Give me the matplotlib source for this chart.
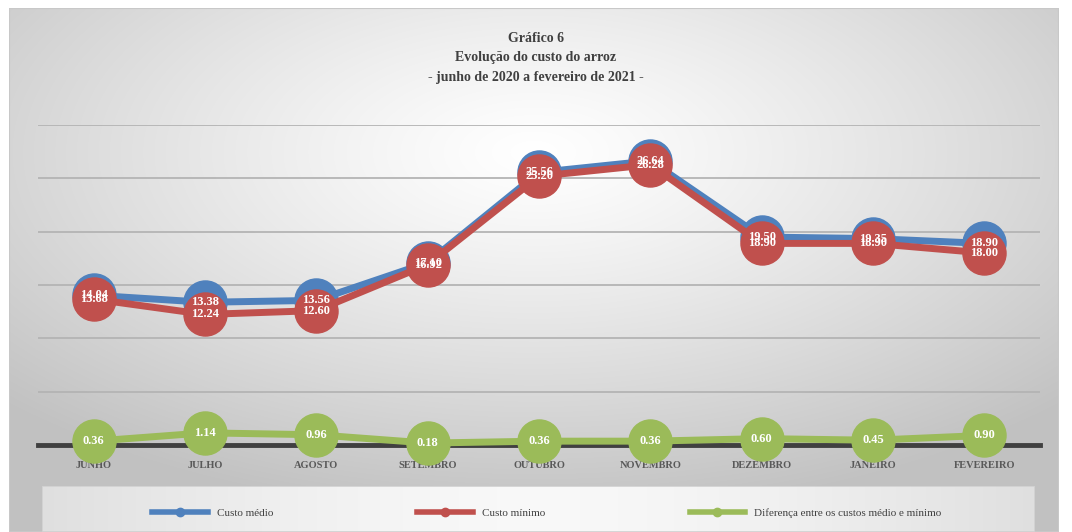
import numpy as np
import matplotlib
matplotlib.use("Agg")
import matplotlib.pyplot as plt
from matplotlib.patches import Rectangle
from matplotlib.lines import Line2D

categories = ["JUNHO", "JULHO", "AGOSTO", "SETEMBRO", "OUTUBRO", "NOVEMBRO",
              "DEZEMBRO", "JANEIRO", "FEVEREIRO"]
custo_medio = [14.04, 13.38, 13.56, 17.10, 25.56, 26.64, 19.50, 19.35, 18.90]
custo_minimo = [13.68, 12.24, 12.60, 16.92, 25.20, 26.28, 18.90, 18.90, 18.00]
diferenca = [0.36, 1.14, 0.96, 0.18, 0.36, 0.36, 0.60, 0.45, 0.90]
labels_medio = ["14.04", "13.38", "13.56", "17.10", "25.56", "26.64", "19.50", "19.35", "18.90"]
labels_minimo = ["13.68", "12.24", "12.60", "16.92", "25.20", "26.28", "18.90", "18.90", "18.00"]
labels_dif = ["0.36", "1.14", "0.96", "0.18", "0.36", "0.36", "0.60", "0.45", "0.90"]
series_names = ["Custo médio", "Custo mínimo", "Diferença entre os custos médio e mínimo"]

FONT = ["Liberation Serif", "DejaVu Serif"]
plt.rcParams["font.family"] = FONT

BLUE = "#4F81BD"
RED = "#C0504D"
GREEN = "#9BBB59"

W, H = 1072, 532
fig = plt.figure(figsize=(W / 100, H / 100), dpi=100)
fig.patch.set_facecolor("white")

# background panel with radial gradient
bg = fig.add_axes([9 / W, 0, (1059 - 9) / W, (H - 8) / H])
bg.set_axis_off()
yy, xx = np.mgrid[-1:1:300j, -1:1:600j]
r = np.sqrt((xx * 0.9) ** 2 + ((yy + 0.45) * 0.9) ** 2)
val = 1.0 - 0.24 * np.clip(r / 1.25, 0, 1) ** 1.2
img = np.dstack([val, val, val])
bg.imshow(img, aspect="auto", extent=[0, 1, 0, 1], interpolation="bilinear")
bg.set_xlim(0, 1)
bg.set_ylim(0, 1)
bg.add_patch(Rectangle((0, 0), 1, 1, fill=False, edgecolor="#c8c8c8", lw=1.5,
                       transform=bg.transAxes))

# legend box
lg = fig.add_axes([42 / W, 0, (1035 - 42) / W, (H - 486) / H])
lg.set_axis_off()
yy2, xx2 = np.mgrid[-1:1:50j, -1:1:600j]
v2 = 0.975 - 0.1 * np.clip(np.abs(xx2) ** 1.5, 0, 1)
lg.imshow(np.dstack([v2, v2, v2]), aspect="auto", extent=[0, 1, 0, 1], interpolation="bilinear")
lg.set_xlim(0, 1)
lg.set_ylim(0, 1)
lg.add_patch(Rectangle((0, 0), 1, 1, fill=False, edgecolor="#d0d0d0", lw=1.2,
                       transform=lg.transAxes))

# main axes
ax = fig.add_axes([38 / W, (H - 445) / H, (1040 - 38) / W, (445 - 125) / H])
ax.patch.set_alpha(0)
x = np.arange(len(categories))
ax.set_xlim(-0.5, len(categories) - 0.5)
ax.set_ylim(0, 30)
ax.set_yticks([5, 10, 15, 20, 25, 30])
ax.yaxis.grid(True, color="#b4b4b4", lw=1.3)
ax.set_axisbelow(True)
ax.tick_params(left=False, labelleft=False, bottom=False)
for s in ["left", "right", "top"]:
    ax.spines[s].set_visible(False)
ax.spines["bottom"].set_color("#404040")
ax.spines["bottom"].set_linewidth(3.5)
ax.spines["bottom"].set_zorder(1)

ms = 31
lw = 5
ax.plot(x, custo_medio, color=BLUE, lw=lw, marker="o", ms=ms, zorder=3)
ax.plot(x, custo_minimo, color=RED, lw=lw, marker="o", ms=ms, zorder=4)
ax.plot(x, diferenca, color=GREEN, lw=lw, marker="o", ms=ms, zorder=5, clip_on=False)

ax.set_xticks(x)
ax.set_xticklabels(categories, fontsize=7.5, fontweight="bold", color="#595959")
ax.tick_params(axis="x", pad=8)
for t in ax.get_xticklabels():
    t.set_zorder(10)

for xi, yv, lab in zip(x, custo_medio, labels_medio):
    ax.text(xi, yv, lab, ha="center", va="center", color="white", fontsize=9,
            fontweight="bold", zorder=6)
for xi, yv, lab in zip(x, custo_minimo, labels_minimo):
    ax.text(xi, yv, lab, ha="center", va="center", color="white", fontsize=9,
            fontweight="bold", zorder=6)
for xi, yv, lab in zip(x, diferenca, labels_dif):
    ax.text(xi, yv, lab, ha="center", va="center", color="white", fontsize=9,
            fontweight="bold", zorder=7, clip_on=False)

# title
fig.text(0.5, (H - 38) / H, "Gráfico 6", ha="center", va="center", fontsize=10,
         fontweight="bold", color="#404040")
fig.text(0.5, (H - 57) / H, "Evolução do custo do arroz", ha="center", va="center",
         fontsize=10, fontweight="bold", color="#404040")
fig.text(0.5, (H - 77) / H, "- junho de 2020 a fevereiro de 2021 -", ha="center",
         va="center", fontsize=10, fontweight="bold", color="#404040")

# legend
handles = [Line2D([], [], color=c, lw=4, marker="o", ms=6) for c in (BLUE, RED, GREEN)]
leg = fig.legend(handles, series_names, loc="center", bbox_to_anchor=(0.51, (H - 513) / H),
                 ncol=3, frameon=False, fontsize=8, columnspacing=13, handlelength=5,
                 labelcolor="#404040")

fig.savefig("out.png", dpi=100)
